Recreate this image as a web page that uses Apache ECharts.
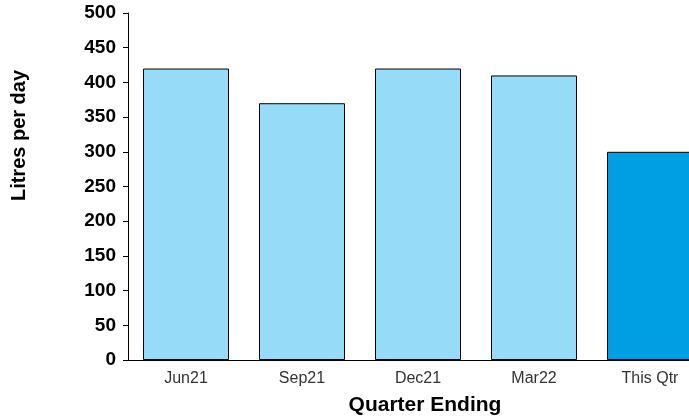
<!DOCTYPE html>
<html>
<head>
<meta charset="utf-8">
<script src="https://cdn.jsdelivr.net/npm/echarts@6/dist/echarts.min.js"></script>
<style>
  html, body { margin: 0; padding: 0; background: #fff; overflow: hidden; }
  /* the reference is cropped on the right, so the canvas runs past the window */
  #chart { width: 740px; height: 418px; }
</style>
</head>
<body>
<div id="chart"></div>
<script>
// quarters and litres per day
const quarters = ["Jun21", "Sep21", "Dec21", "Mar22", "This Qtr"];
const litres = [420, 370, 420, 410, 300];
const barColors = ["#96dcf8", "#96dcf8", "#96dcf8", "#96dcf8", "#009fe3"];

const myChart = echarts.init(document.getElementById("chart"));
myChart.setOption({
  animation: false,
  grid: { left: 128, right: 32, top: 13, bottom: 58, outerBoundsMode: "none" },
  xAxis: {
    type: "category",
    data: quarters,
    name: "Quarter Ending",
    nameLocation: "middle",
    nameGap: 35,
    nameTextStyle: {
      fontFamily: "Liberation Sans",
      fontWeight: "bold",
      fontSize: 21,
      color: "#000",
      padding: [0, 0, 0, 14],
    },
    axisLine: { lineStyle: { color: "#000", width: 1 } },
    axisTick: { alignWithLabel: true, length: 5, lineStyle: { color: "#000" } },
    axisLabel: { fontFamily: "Liberation Sans", fontSize: 16, color: "#333", margin: 11 },
  },
  yAxis: {
    type: "value",
    min: 0,
    max: 500,
    interval: 50,
    name: "Litres per day",
    nameLocation: "middle",
    nameGap: 99,
    nameTextStyle: {
      fontFamily: "Liberation Sans",
      fontWeight: "bold",
      fontSize: 20,
      color: "#000",
      padding: [0, 0, 0, 102],
    },
    axisLine: { show: true, lineStyle: { color: "#000", width: 1 } },
    axisTick: { show: true, length: 5, lineStyle: { color: "#000" } },
    axisLabel: { fontFamily: "Liberation Sans", fontWeight: "bold", fontSize: 19, color: "#000", margin: 12 },
    splitLine: { show: false },
  },
  series: [
    {
      type: "bar",
      barWidth: 86,
      data: litres.map((v, i) => ({
        value: v,
        itemStyle: { color: barColors[i] },
      })),
      itemStyle: { borderColor: "#000", borderWidth: 1 },
    },
  ],
});
</script>
</body>
</html>
